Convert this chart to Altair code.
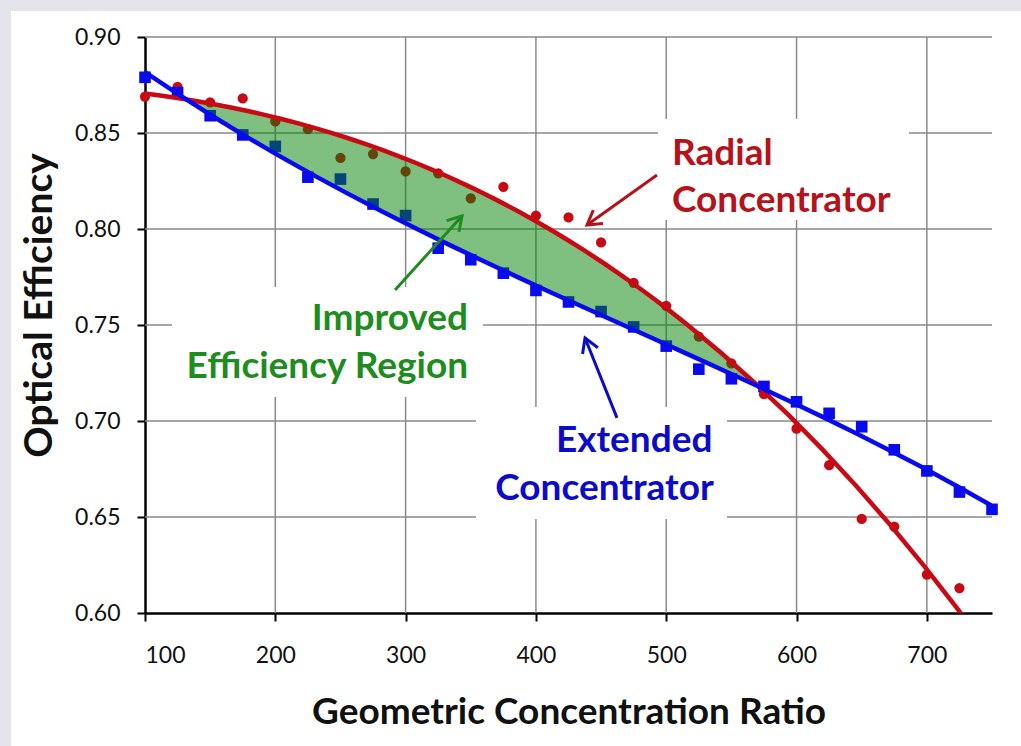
import altair as alt
import pandas as pd

# ---------------- data ----------------
x_vals = [100, 125, 150, 175, 200, 225, 250, 275, 300, 325, 350, 375, 400, 425,
          450, 475, 500, 525, 550, 575, 600, 625, 650, 675, 700, 725, 750]

radial_y = [0.869, 0.874, 0.866, 0.868, 0.856, 0.852, 0.837, 0.839, 0.830, 0.829,
            0.816, 0.822, 0.807, 0.806, 0.793, 0.772, 0.760, 0.744, 0.730, 0.714,
            0.696, 0.677, 0.649, 0.645, 0.620, 0.613]            # 100 .. 725

extended_y = [0.879, 0.871, 0.859, 0.849, 0.843, 0.827, 0.826, 0.813, 0.807, 0.790,
              0.784, 0.777, 0.768, 0.762, 0.757, 0.749, 0.739, 0.727, 0.722, 0.718,
              0.710, 0.704, 0.697, 0.685, 0.674, 0.663, 0.654]   # 100 .. 750

x_ticks = [100, 200, 300, 400, 500, 600, 700]
y_ticks = [0.60, 0.65, 0.70, 0.75, 0.80, 0.85, 0.90]
x_grid = [200, 300, 400, 500, 600, 700]
y_grid = [0.65, 0.70, 0.75, 0.80, 0.85, 0.90]

# annotation boxes (data coordinates)
box_x = [493.7, 120.7, 354.0]
box_x2 = [686.3, 359.4, 546.6]
box_y = [0.8573, 0.7698, 0.7073]
box_y2 = [0.8047, 0.7125, 0.6490]

# annotation texts
red_text = ["Radial", "Concentrator"]
red_text_x = [504.4, 504.4]
red_text_y = [0.8333, 0.8089]
green_text = ["Improved", "Efficiency Region"]
green_text_x = [347.9, 347.9]
green_text_y = [0.7474, 0.7224]
blue_text = ["Extended", "Concentrator"]
blue_text_x = [535.5, 536.5]
blue_text_y = [0.6839, 0.6589]

# arrows: tail -> tip
arrow_x = [492.9, 291.9, 462.2]
arrow_y = [0.8281, 0.7682, 0.7016]
arrow_x2 = [439.2, 343.3, 437.7]
arrow_y2 = [0.8021, 0.8068, 0.7432]
arrow_angle = [234, 42, 338]
arrow_color = ["#b5121b", "#1e8c1e", "#0c0cc8"]

RED = "#c80a14"
BLUE = "#0a0aee"

# sampling grid used to evaluate the fitted trend curves for the shaded band
fit_grid = list(range(100, 752, 2))

# ---------------- tables ----------------
points = pd.DataFrame({
    "x": x_vals[:len(radial_y)] + x_vals,
    "y": radial_y + extended_y,
    "series": ["Radial"] * len(radial_y) + ["Extended"] * len(extended_y),
})
boxes = pd.DataFrame({"x": box_x, "x2": box_x2, "y": box_y, "y2": box_y2})
arrows = pd.DataFrame({"x": arrow_x, "y": arrow_y, "x2": arrow_x2, "y2": arrow_y2,
                       "angle": arrow_angle, "color": arrow_color})

FONT = "Lato"
FRAME = "#e4e4ec"

xscale = alt.Scale(domain=[100, 750], nice=False, zero=False)
yscale = alt.Scale(domain=[0.60, 0.90], nice=False, zero=False)
series_dom = ["Radial", "Extended"]
color_scale = alt.Scale(domain=series_dom, range=[RED, BLUE])

XAXIS = alt.Axis(values=x_ticks, grid=False, title="Geometric Concentration Ratio",
                 labelFontSize=23, labelPadding=23, tickSize=8, tickWidth=2,
                 domainWidth=2.5, domainColor="black", tickColor="black",
                 labelColor="#111", titleFontSize=37, titleFontWeight="bold",
                 titleColor="#111", titleBaseline="alphabetic", titleY=110,
                 labelFont=FONT, titleFont=FONT)
YAXIS = alt.Axis(values=y_ticks, grid=False, title="Optical Efficiency", format=".2f",
                 labelFontSize=23, labelPadding=17, tickSize=8, tickWidth=2,
                 domainWidth=2.5, domainColor="black", tickColor="black",
                 labelColor="#111", titleFontSize=39, titleFontWeight="bold",
                 titleColor="#111", titleBaseline="alphabetic", titleX=-94,
                 titleY=268, titleAlign="center", labelFont=FONT, titleFont=FONT)


def X(field):
    return alt.X(field, scale=xscale, axis=XAXIS)


def Y(field):
    return alt.Y(field, scale=yscale, axis=YAXIS)


# grey frame strips at top and left of the picture
frame_top = alt.Chart(pd.DataFrame({"a": [0]})).mark_rect(color=FRAME).encode(
    x=alt.value(-145), x2=alt.value(876), y=alt.value(-37), y2=alt.value(-26)
)
frame_left = alt.Chart(pd.DataFrame({"a": [0]})).mark_rect(color=FRAME).encode(
    x=alt.value(-145), x2=alt.value(-134), y=alt.value(-37), y2=alt.value(709)
)

vgrid = alt.Chart(pd.DataFrame({"g": x_grid})).mark_rule(color="#8a8a8a", strokeWidth=1.5).encode(
    x=X("g:Q")
)
hgrid = alt.Chart(pd.DataFrame({"g": y_grid})).mark_rule(color="#8a8a8a", strokeWidth=1.5).encode(
    y=Y("g:Q")
)

box_layer = alt.Chart(boxes).mark_rect(color="white").encode(
    x=X("x:Q"), x2="x2:Q", y=Y("y:Q"), y2="y2:Q",
)

pts = alt.Chart(points).mark_point(filled=True, opacity=1).encode(
    x=X("x:Q"),
    y=Y("y:Q"),
    color=alt.Color("series:N", scale=color_scale, legend=None),
    shape=alt.Shape("series:N", scale=alt.Scale(domain=series_dom, range=["circle", "square"]),
                    legend=None),
    size=alt.Size("series:N", scale=alt.Scale(domain=series_dom, range=[105, 135]), legend=None),
)

area = alt.Chart(points).transform_regression(
    "x", "y", groupby=["series"], method="poly", order=3, params=True
).transform_calculate(
    grp="datum.keys[0]"
).transform_calculate(
    xs=str(fit_grid)
).transform_flatten(
    ["xs"]
).transform_calculate(
    yfit="datum.coef[0] + datum.coef[1]*datum.xs + datum.coef[2]*datum.xs*datum.xs"
         " + datum.coef[3]*datum.xs*datum.xs*datum.xs"
).transform_calculate(
    yr="datum.grp === 'Radial' ? datum.yfit : null"
).transform_calculate(
    ye="datum.grp === 'Extended' ? datum.yfit : null"
).transform_aggregate(
    upper="max(yr)", ext="max(ye)", groupby=["xs"]
).transform_calculate(
    lower="min(datum.upper, datum.ext)"
).mark_area(color="#008000", opacity=0.5, clip=True).encode(
    x=X("xs:Q"), y=Y("upper:Q"), y2="lower:Q",
)

lines = alt.Chart(points).transform_regression(
    "x", "y", groupby=["series"], method="poly", order=3, extent=[100, 750]
).mark_line(strokeWidth=4.5, clip=True).encode(
    x=X("x:Q"),
    y=Y("y:Q"),
    color=alt.Color("series:N", scale=color_scale, legend=None),
)

arrow_lines = alt.Chart(arrows).mark_rule(strokeWidth=3).encode(
    x=X("x:Q"), x2="x2:Q", y=Y("y:Q"), y2="y2:Q",
    color=alt.Color("color:N", scale=None),
)
arrow_heads = alt.Chart(arrows).mark_point(
    shape="M-0.6,1 L0,0 L0.6,1", filled=False, strokeWidth=3, size=760, opacity=1
).encode(
    x=X("x2:Q"),
    y=Y("y2:Q"),
    angle=alt.Angle("angle:Q", scale=None),
    color=alt.Color("color:N", scale=None),
)


def text_layer(texts, xs, ys, color, align):
    df = pd.DataFrame({"t": texts, "x": xs, "y": ys})
    return alt.Chart(df).mark_text(
        font=FONT, fontSize=37, fontWeight="bold", color=color, align=align,
        baseline="alphabetic"
    ).encode(
        x=X("x:Q"), y=Y("y:Q"), text="t:N",
    )


t_red = text_layer(red_text, red_text_x, red_text_y, "#b5121b", "left")
t_green = text_layer(green_text, green_text_x, green_text_y, "#1e8c1e", "right")
t_blue = text_layer(blue_text, blue_text_x, blue_text_y, "#0c0cc8", "right")

chart = alt.layer(
    frame_top, frame_left, vgrid, hgrid, box_layer, pts, area, lines,
    arrow_lines, arrow_heads, t_red, t_green, t_blue
).properties(
    width=847, height=576,
    autosize=alt.AutoSizeParams(type="none"),
    padding={"left": 145, "top": 37, "right": 29, "bottom": 133},
    background="white",
).configure(font=FONT).configure_view(stroke=None)

chart.save("out.html", embed_options={"renderer": "svg", "actions": False})
